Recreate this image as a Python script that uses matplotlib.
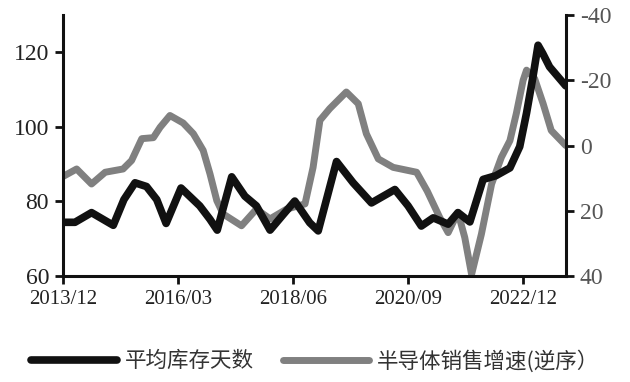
import matplotlib
matplotlib.use("Agg")
import matplotlib.pyplot as plt
from matplotlib.lines import Line2D

# months since 2013/12
inv_months = [0, 2.8, 6.7, 11.8, 14.3, 16.9, 19.6, 22.0, 24.2, 27.7, 32.1, 34.5, 36.2,
              39.6, 42.7, 45.4, 48.6, 51.7, 54.4, 57.9, 59.9, 64.2, 68.1, 72.4, 77.9,
              81.0, 84.1, 86.9, 90.4, 92.7, 95.5, 98.6, 101.6, 104.9, 107.2, 108.8,
              110.3, 111.5, 112.6, 114.2, 118.0]
inv_days = [74.4, 74.4, 77.0, 73.6, 80.5, 85.0, 84.0, 80.5, 74.1, 83.6, 78.8, 75.2, 72.3,
            86.6, 81.4, 78.8, 72.3, 76.5, 80.1, 74.3, 72.1, 90.7, 85.0, 79.6, 83.2,
            78.8, 73.4, 75.6, 73.9, 77.0, 74.5, 85.9, 86.9, 89.0, 94.7, 103.7,
            113.4, 121.9, 119.7, 116.1, 111.0]

sales_months = [0, 3.2, 6.7, 9.9, 14.1, 16.1, 18.5, 21.2, 22.8, 25.1, 28.2, 30.6, 32.9,
                34.5, 36.1, 37.6, 41.9, 45.4, 48.6, 52.5, 56.8, 58.7, 60.3, 62.6, 66.5,
                69.3, 71.2, 74.0, 77.5, 83.0, 85.5, 88.4, 90.4, 92.7, 94.3, 95.9, 98.2,
                100.6, 102.9, 104.9, 106.4, 108.0, 108.8, 110.7, 112.7, 114.6, 118.0]
sales_growth = [9.5, 7.2, 11.8, 8.2, 7.2, 4.6, -2.1, -2.4, -5.6, -9.2, -6.9, -3.6, 1.5,
                8.7, 16.9, 21.0, 24.6, 19.5, 22.5, 19.5, 17.9, 6.7, -7.7, -11.3, -16.4,
                -12.8, -3.6, 4.1, 6.7, 8.2, 14.0, 22.0, 26.7, 20.5, 28.2, 39.5, 27.2,
                11.8, 3.6, -1.5, -9.8, -20.0, -23.1, -20.5, -12.8, -4.6, 0.0]

tick_months = [0, 27, 54, 81, 108]
tick_labels = ["2013/12", "2016/03", "2018/06", "2020/09", "2022/12"]
left_ticks = [60, 80, 100, 120]
right_ticks = [-40, -20, 0, 20, 40]
series_names = ["平均库存天数", "半导体销售增速(逆序）"]

BLACK = "#111111"
GRAY = "#808080"
serif = ["Liberation Serif", "DejaVu Serif"]

fig = plt.figure(figsize=(6.30, 3.82), dpi=100)
ax = fig.add_axes([0.1, 0.2775, 0.798, 0.6832])
ax2 = ax.twinx()

ax.plot(inv_months, inv_days, color=BLACK, lw=5.5, solid_joinstyle="round",
        solid_capstyle="round", zorder=3)
ax2.plot(sales_months, sales_growth, color=GRAY, lw=5.0, solid_joinstyle="round",
         solid_capstyle="round", zorder=2)
ax.set_zorder(ax2.get_zorder() + 1)
ax.patch.set_visible(False)

ax.set_xlim(0, 118)
ax.set_ylim(60, 130)
ax2.set_ylim(40, -40)

ax.set_xticks(tick_months)
ax.set_xticklabels(tick_labels, fontfamily=serif, fontsize=15, color="#222222")
ax.set_yticks(left_ticks)
ax.set_yticklabels([str(v) for v in left_ticks], fontfamily=serif, fontsize=17, color="#222222")
ax2.set_yticks(right_ticks)
ax2.set_yticklabels([str(v) for v in right_ticks], fontfamily=serif, fontsize=17, color="#555555")

for a in (ax, ax2):
    a.spines["top"].set_visible(False)
    for s in ("left", "right", "bottom"):
        a.spines[s].set_linewidth(2.2)
        a.spines[s].set_color(BLACK)
    a.tick_params(direction="out", length=6, width=2, color=BLACK, pad=4)
ax.spines["right"].set_visible(False)
ax2.spines["left"].set_visible(False)
ax2.spines["bottom"].set_visible(False)

handles = [Line2D([], [], color=BLACK, lw=5.5, solid_capstyle="round"),
           Line2D([], [], color=GRAY, lw=5.0, solid_capstyle="round")]
leg = fig.legend(handles, series_names, loc="center", bbox_to_anchor=(0.5, 0.055), ncol=2,
                 frameon=False, handlelength=4.0, handletextpad=0.35, columnspacing=1.35,
                 prop={"family": ["Noto Sans CJK SC", "DejaVu Sans"], "size": 15.5})
for t in leg.get_texts():
    t.set_color("#333333")

fig.savefig("out.png", dpi=100)
